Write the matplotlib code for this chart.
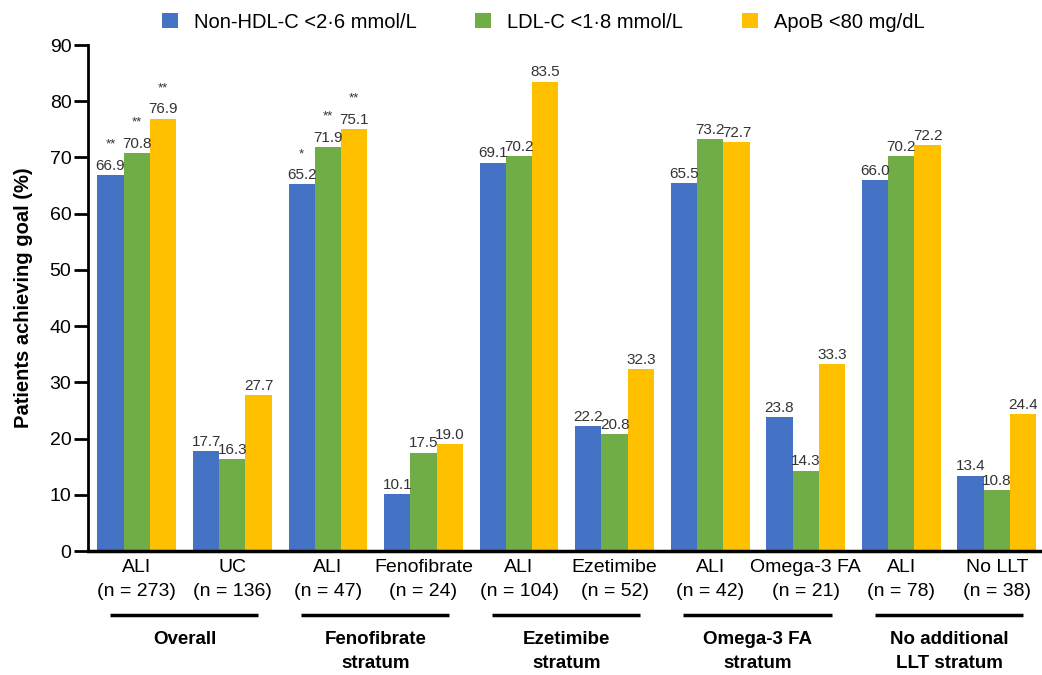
import numpy as np
import matplotlib.pyplot as plt
from matplotlib.transforms import blended_transform_factory

plt.rcParams['font.family'] = ['Liberation Sans', 'DejaVu Sans']

# groups along the x axis
arms = ["ALI\n(n = 273)", "UC\n(n = 136)",
        "ALI\n(n = 47)", "Fenofibrate\n(n = 24)",
        "ALI\n(n = 104)", "Ezetimibe\n(n = 52)",
        "ALI\n(n = 42)", "Omega-3 FA\n(n = 21)",
        "ALI\n(n = 78)", "No LLT\n(n = 38)"]
strata = ["Overall", "Fenofibrate\nstratum", "Ezetimibe\nstratum",
          "Omega-3 FA\nstratum", "No additional\nLLT stratum"]

# % of patients at goal
non_hdl = [66.9, 17.7, 65.2, 10.1, 69.1, 22.2, 65.5, 23.8, 66.0, 13.4]
ldl = [70.8, 16.3, 71.9, 17.5, 70.2, 20.8, 73.2, 14.3, 70.2, 10.8]
apob = [76.9, 27.7, 75.1, 19.0, 83.5, 32.3, 72.7, 33.3, 72.2, 24.4]

# significance markers (ALI vs comparator)
sig_non_hdl = ["**", "", "*", "", "", "", "", "", "", ""]
sig_ldl = ["**", "", "**", "", "", "", "", "", "", ""]
sig_apob = ["**", "", "**", "", "", "", "", "", "", ""]

series = [
    ("Non-HDL-C <2·6 mmol/L", non_hdl, sig_non_hdl, "#4472C4"),
    ("LDL-C <1·8 mmol/L", ldl, sig_ldl, "#70AD47"),
    ("ApoB <80 mg/dL", apob, sig_apob, "#FFC000"),
]

fig = plt.figure(figsize=(10.42, 6.75), dpi=100)
ax = fig.add_axes([0.0845, 0.1837, 0.9135, 0.7496])

x = np.arange(len(arms))
w = 0.275
for k, (name, vals, sigs, col) in enumerate(series):
    pos = x + (k - 1) * w
    ax.bar(pos, vals, width=w, color=col, label=name, zorder=2)
    for p, v, s in zip(pos, vals, sigs):
        ax.text(p, v + 0.4, f"{v:.1f}", ha="center", va="bottom",
                fontsize=11, color="#333333")
        if s:
            ax.text(p, v + 4.3, s, ha="center", va="bottom",
                    fontsize=9.5, color="#333333")

ax.set_xlim(-0.51, 9.45)
ax.set_ylim(0, 90)
ax.set_yticks(np.arange(0, 91, 10))
ax.set_xticks(x)
ax.set_xticklabels(arms, fontsize=14, linespacing=1.5)
ax.tick_params(axis="x", length=0, pad=6)
ax.tick_params(axis="y", labelsize=14, length=10, width=2, direction="out", pad=2)
ax.spines["top"].set_visible(False)
ax.spines["right"].set_visible(False)
ax.spines["left"].set_linewidth(2)
ax.spines["bottom"].set_linewidth(2.5)
ax.set_ylabel("Patients achieving goal (%)", fontsize=14.5, fontweight="bold",
              labelpad=12)

# stratum underlines and labels
tr = blended_transform_factory(ax.transData, ax.transAxes)
for i, name in enumerate(strata):
    g = 2 * i
    ax.plot([g - 0.28, g + 1.27], [-0.127, -0.127], color="black", lw=2.5,
            transform=tr, clip_on=False, solid_capstyle="butt")
    ax.text(g + 0.5, -0.158, name, transform=tr, ha="center", va="top",
            fontsize=13.5, fontweight="bold", linespacing=1.55)

ax.legend(loc="upper center", bbox_to_anchor=(0.5 - 0.022, 1.1), ncol=3,
          frameon=False, fontsize=14.5, handlelength=0.8, handleheight=0.8,
          columnspacing=2.9, handletextpad=0.8)

fig.savefig("out.png", dpi=100)
